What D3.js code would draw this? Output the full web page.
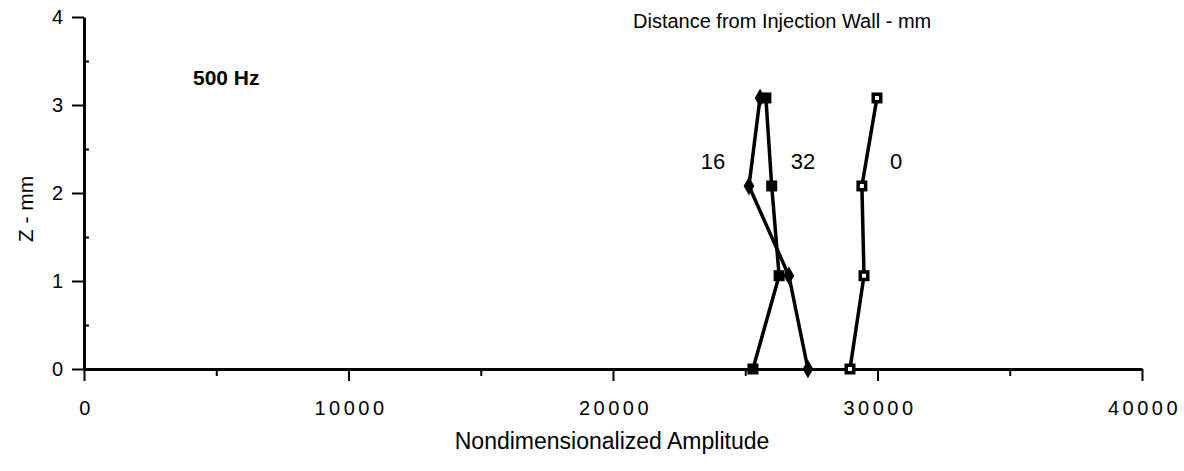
<!DOCTYPE html>
<html>
<head>
<meta charset="utf-8">
<script src="https://cdn.jsdelivr.net/npm/d3@7"></script>
<style>
	body { margin: 0; background: #fff; }
	text { font-family: "Liberation Sans", Arial, sans-serif; fill: #000; }
</style>
</head>
<body>
<div id="plot"></div>
<script>
// values
var zLevels = [0, 1.06, 2.08, 3.08];
var amp0 = [28960, 29490, 29410, 29980];
var amp16 = [27370, 26650, 25140, 25560];
var amp32 = [25290, 26280, 26000, 25780];
var xTicks = [0, 10000, 20000, 30000, 40000];
var yTicks = [0, 1, 2, 3, 4];

var width = 1184, height = 471;
var x = d3.scaleLinear().domain([0, 40000]).range([84, 1142]);
var y = d3.scaleLinear().domain([0, 4]).range([369, 17]);

var svg = d3.select("#plot").append("svg")
	.attr("width", width)
	.attr("height", height);

// minor ticks
svg.append("g")
	.attr("transform", "translate(0,369)")
	.call(d3.axisBottom(x).tickValues([5000, 15000, 25000, 35000]).tickSize(7).tickFormat(""))
	.call(function(g){ g.select(".domain").remove(); })
	.selectAll("line").attr("stroke-width", 2);

svg.append("g")
	.attr("transform", "translate(84,0)")
	.call(d3.axisRight(y).tickValues([0.5, 1.5, 2.5, 3.5]).tickSize(5).tickFormat(""))
	.call(function(g){ g.select(".domain").remove(); })
	.selectAll("line").attr("stroke-width", 2);

// main axes
var xAxis = svg.append("g")
	.attr("transform", "translate(0,369)")
	.call(d3.axisBottom(x).tickValues(xTicks).tickSize(12).tickSizeOuter(0).tickPadding(20).tickFormat(d3.format("d")));
xAxis.select(".domain").attr("stroke-width", 3);
xAxis.selectAll("line").attr("stroke-width", 2);
xAxis.selectAll("text")
	.style("font-size", "20px")
	.style("letter-spacing", "3.5px")
	.attr("dx", "2px");

var yAxis = svg.append("g")
	.attr("transform", "translate(84,0)")
	.call(d3.axisLeft(y).tickValues(yTicks).tickSize(12).tickSizeOuter(0).tickPadding(9).tickFormat(d3.format("d")));
yAxis.select(".domain").attr("stroke-width", 3);
yAxis.selectAll("line").attr("stroke-width", 2);
yAxis.selectAll("text").style("font-size", "20px");

var line = d3.line()
	.x(function(d){ return x(d[0]); })
	.y(function(d){ return y(d[1]); });

var series = [
	{name: "0", amp: amp0, mark: "open"},
	{name: "16", amp: amp16, mark: "diamond"},
	{name: "32", amp: amp32, mark: "square"}
];

series.forEach(function(s){
	var pts = s.amp.map(function(a, i){ return [a, zLevels[i]]; });
	svg.append("path")
		.datum(pts)
		.attr("d", line)
		.attr("fill", "none")
		.attr("stroke", "#000")
		.attr("stroke-width", 3.5);

	var g = svg.append("g");
	pts.forEach(function(p){
		var cx = x(p[0]), cy = y(p[1]);
		if(s.mark === "diamond"){
			g.append("path")
				.attr("d", d3.symbol(d3.symbolDiamond, 100)())
				.attr("transform", "translate(" + cx + "," + cy + ")")
				.attr("fill", "#000");
		} else {
			g.append("rect")
				.attr("x", cx - 5.5).attr("y", cy - 5.5)
				.attr("width", 11).attr("height", 11)
				.attr("fill", "#000");
			if(s.mark === "open"){
				g.append("rect")
					.attr("x", cx - 2).attr("y", cy - 2)
					.attr("width", 4).attr("height", 4)
					.attr("fill", "#fff");
			}
		}
	});
});

// annotations
svg.append("text").attr("x", 713).attr("y", 169).attr("text-anchor", "middle")
	.style("font-size", "22px").text("16");
svg.append("text").attr("x", 803).attr("y", 169).attr("text-anchor", "middle")
	.style("font-size", "22px").text("32");
svg.append("text").attr("x", 896).attr("y", 169).attr("text-anchor", "middle")
	.style("font-size", "22px").text("0");

svg.append("text").attr("x", 193).attr("y", 85)
	.style("font-size", "21px").style("font-weight", "bold").text("500 Hz");

svg.append("text").attr("x", 633).attr("y", 28)
	.style("font-size", "20px").text("Distance from Injection Wall - mm");

svg.append("text").attr("x", 612).attr("y", 449).attr("text-anchor", "middle")
	.style("font-size", "23px").text("Nondimensionalized Amplitude");

svg.append("text")
	.attr("transform", "translate(33,209) rotate(-90)")
	.attr("text-anchor", "middle")
	.style("font-size", "21px").text("Z - mm");
</script>
</body>
</html>
